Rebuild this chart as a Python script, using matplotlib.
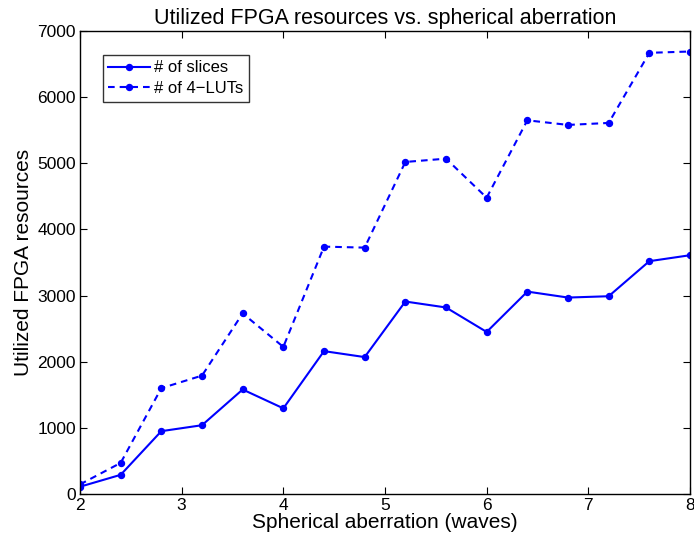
import matplotlib
matplotlib.use("Agg")
import matplotlib.pyplot as plt

# Spherical aberration (waves) and utilized resources
aberration = [2.0, 2.4, 2.8, 3.2, 3.6, 4.0, 4.4, 4.8, 5.2, 5.6, 6.0, 6.4, 6.8, 7.2, 7.6, 8.0]
slices = [110, 290, 950, 1040, 1580, 1295, 2160, 2070, 2910, 2820, 2450, 3060, 2970, 2990, 3520, 3610]
luts = [145, 470, 1600, 1790, 2730, 2224, 3740, 3725, 5020, 5070, 4480, 5650, 5580, 5610, 6670, 6690]

xticks = [2, 3, 4, 5, 6, 7, 8]
yticks = [0, 1000, 2000, 3000, 4000, 5000, 6000, 7000]

plt.rcParams['font.family'] = ['Liberation Sans', 'DejaVu Sans']

fig = plt.figure(figsize=(6.94, 5.48), dpi=100)
ax = fig.add_axes([80 / 694, 54 / 548, 610 / 694, 463 / 548])

blue = (0, 0, 1)
ax.plot(aberration, slices, '-', color=blue, lw=1.5, marker='o', ms=4.3,
        label='# of slices')
ax.plot(aberration, luts, color=blue, lw=1.5, ls=(0, (3.2, 2.4)), marker='o', ms=4.3,
        label='# of 4\u2212LUTs')

ax.set_xlim(2, 8)
ax.set_ylim(0, 7000)
ax.set_xticks(xticks)
ax.set_yticks(yticks)
ax.tick_params(direction='in', length=5, width=0.8, labelsize=12.5,
               top=True, right=True, pad=3)
for s in ax.spines.values():
    s.set_linewidth(1.0)

ax.set_title('Utilized FPGA resources vs. spherical aberration', fontsize=15.5, pad=5)
ax.set_xlabel('Spherical aberration (waves)', fontsize=15, labelpad=0)
ax.set_ylabel('Utilized FPGA resources', fontsize=15, labelpad=3)

leg = ax.legend(loc='upper left', bbox_to_anchor=(0.037, 0.949), fontsize=12,
                frameon=True, fancybox=False, handlelength=2.5, handletextpad=0.25,
                borderaxespad=0, borderpad=0.35, labelspacing=0.35)
leg.get_frame().set_edgecolor('black')
leg.get_frame().set_linewidth(1.0)

fig.savefig('out.png', dpi=100)
